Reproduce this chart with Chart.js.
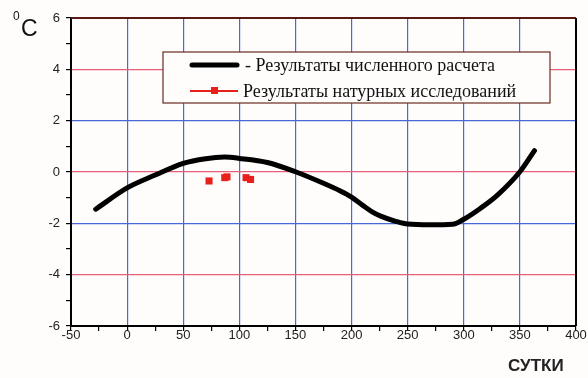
<!DOCTYPE html>
<html>
<head>
<meta charset="utf-8">
<script src="https://cdn.jsdelivr.net/npm/chart.js@4"></script>
<style>
  html, body { margin: 0; padding: 0; background: #fffdfc; }
  #wrap { width: 588px; height: 378px; position: relative; }
</style>
</head>
<body>
<div id="wrap"><canvas id="grafico"></canvas></div>
<script>
// calculated curve
var dias = [-28, 0, 25, 50, 70, 87, 100, 125, 150, 175, 190, 200, 210, 218, 226, 240, 250, 270, 290, 300, 315, 330, 350, 363];
var temperaturas = [-1.45, -0.62, -0.12, 0.34, 0.52, 0.58, 0.53, 0.37, 0.01, -0.44, -0.74, -0.98, -1.3, -1.54, -1.72, -1.93, -2.03, -2.06, -2.04, -1.84, -1.41, -0.9, 0.01, 0.83];

// field measurements
var diasMedidos = [73, 87, 89, 106, 110];
var tempMedidas = [-0.35, -0.22, -0.19, -0.22, -0.29];

var nombreSerie1 = "- Результаты численного расчета";
var nombreSerie2 = "Результаты натурных исследований";
var tituloY = "C";
var tituloX = "СУТКИ";

function puntos(xs, ys) {
  var out = [];
  xs.forEach(function (x, i) { out.push({ x: x, y: ys[i] }); });
  return out;
}

function valorTick(c) {
  var t = c.scale && c.scale.ticks ? c.scale.ticks[c.index] : null;
  return t ? t.value : NaN;
}

var extras = {
  id: "extras",
  afterDraw: function (chart) {
    var ctx = chart.ctx;
    var a = chart.chartArea;
    ctx.save();
    // top and right frame
    ctx.strokeStyle = "#5a1a14";
    ctx.lineWidth = 2;
    ctx.beginPath();
    ctx.moveTo(a.left, a.top);
    ctx.lineTo(a.right, a.top);
    ctx.stroke();
    ctx.strokeStyle = "#000";
    ctx.beginPath();
    ctx.moveTo(a.right, a.top);
    ctx.lineTo(a.right, a.bottom);
    ctx.stroke();

    // legend box
    var bx = 163, by = 52, bw = 387, bh = 51;
    ctx.fillStyle = "#fffdfc";
    ctx.fillRect(bx, by, bw, bh);
    ctx.strokeStyle = "#6a2a20";
    ctx.lineWidth = 1.2;
    ctx.strokeRect(bx, by, bw, bh);

    ctx.lineCap = "round";
    ctx.strokeStyle = "#000";
    ctx.lineWidth = 5;
    ctx.beginPath();
    ctx.moveTo(192, 65);
    ctx.lineTo(237, 65);
    ctx.stroke();

    ctx.lineCap = "butt";
    ctx.strokeStyle = "#e8201c";
    ctx.lineWidth = 2;
    ctx.beginPath();
    ctx.moveTo(190, 91);
    ctx.lineTo(238, 91);
    ctx.stroke();
    ctx.fillStyle = "#e8201c";
    ctx.fillRect(211, 87, 7, 7);

    ctx.fillStyle = "#111";
    ctx.font = "18px 'Liberation Serif'";
    ctx.textBaseline = "middle";
    ctx.textAlign = "left";
    ctx.fillText(nombreSerie1, 245, 66);
    ctx.fillText(nombreSerie2, 243, 92);

    // axis titles
    ctx.font = "23px 'Liberation Sans'";
    ctx.fillText(tituloY, 21, 30);
    ctx.font = "12px 'Liberation Sans'";
    ctx.fillText("0", 13, 17);
    ctx.font = "bold 17px 'Liberation Sans'";
    ctx.fillStyle = "#222";
    ctx.fillText(tituloX, 508, 366);
    ctx.restore();
  }
};

var ctx = document.getElementById("grafico");
var miGrafico = new Chart(ctx, {
  type: "line",
  data: {
    datasets: [
      {
        label: nombreSerie1,
        data: puntos(dias, temperaturas),
        borderColor: "#000",
        borderWidth: 5,
        pointRadius: 0,
        cubicInterpolationMode: "monotone",
        borderCapStyle: "round",
        fill: false,
      },
      {
        label: nombreSerie2,
        data: puntos(diasMedidos, tempMedidas),
        showLine: false,
        pointStyle: "rect",
        pointRadius: 5,
        backgroundColor: "#e8201c",
        borderColor: "#e8201c",
        borderWidth: 0,
      },
    ],
  },
  options: {
    responsive: true,
    maintainAspectRatio: false,
    animation: false,
    layout: { padding: { top: 18, right: 12, left: 0, bottom: 0 } },
    plugins: {
      legend: { display: false },
      tooltip: { enabled: false },
    },
    scales: {
      x: {
        type: "linear",
        min: -50,
        max: 400,
        afterFit: function (s) { s.height = 52; },
        ticks: {
          stepSize: 25,
          padding: -3,
          color: "#222",
          font: { family: "'Liberation Sans'", size: 13 },
          maxRotation: 0,
          autoSkip: false,
          callback: function (v) { return v % 50 === 0 ? v : ""; },
        },
        grid: {
          color: function (c) {
            var v = valorTick(c);
            return Math.abs(v % 50) < 0.01 ? "#4868d8" : "rgba(0,0,0,0)";
          },
          tickColor: "#000",
          tickLength: 5,
          lineWidth: 1.2,
        },
        border: { display: true, color: "#000", width: 2 },
      },
      y: {
        min: -6,
        max: 6,
        afterFit: function (s) { s.width = 71; },
        ticks: {
          stepSize: 1,
          padding: 6,
          color: "#222",
          font: { family: "'Liberation Sans'", size: 13 },
          autoSkip: false,
          callback: function (v) { return v % 2 === 0 ? v : ""; },
        },
        grid: {
          color: function (c) {
            var v = valorTick(c);
            if (Math.abs(v % 2) > 0.01) return "rgba(0,0,0,0)";
            return Math.abs(v % 4) < 0.01 ? "#e6607a" : "#4868d8";
          },
          tickColor: "#000",
          tickLength: 5,
          lineWidth: 1.2,
        },
        border: { display: true, color: "#000", width: 2 },
      },
    },
  },
  plugins: [extras],
});
</script>
</body>
</html>
